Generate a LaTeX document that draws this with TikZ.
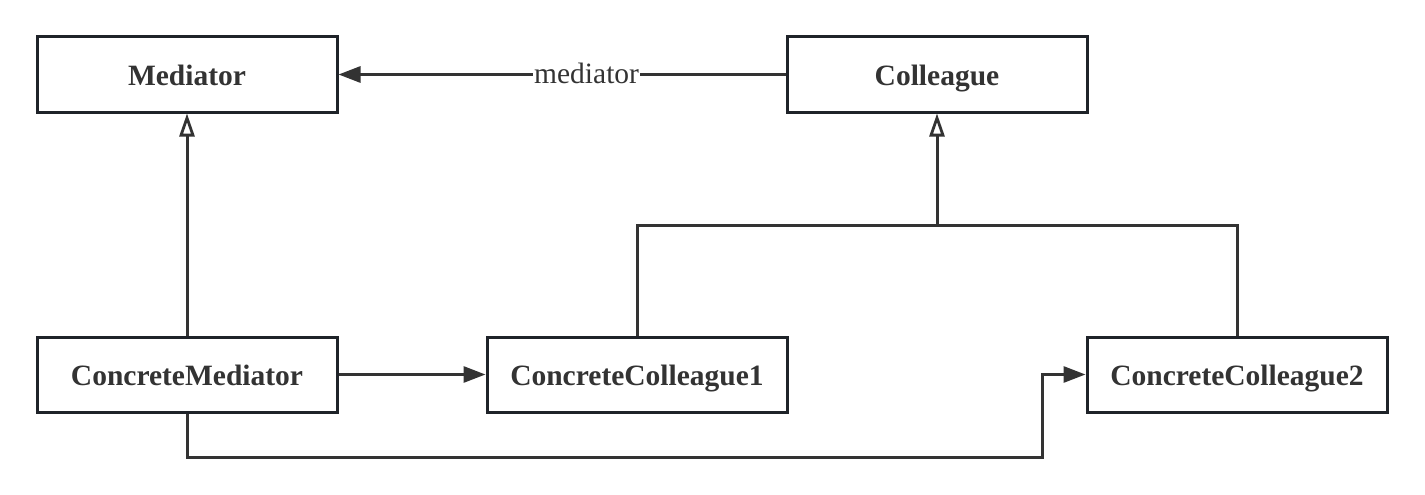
\documentclass[tikz,border=0pt]{standalone}
\usepackage{fontspec}
\setmainfont{Liberation Serif}
\usetikzlibrary{arrows.meta}
\definecolor{boxline}{HTML}{1F2329}
\definecolor{conn}{HTML}{333333}
\definecolor{txt}{HTML}{333333}
\begin{document}
\begin{tikzpicture}[x=1pt,y=-1pt,
  cls/.style={draw=boxline,line width=3pt,fill=white,minimum width=300pt,minimum height=75pt,inner sep=0pt,
    text height=24pt,text depth=3pt,
    font=\fontsize{29.5}{34}\selectfont\bfseries,text=txt},
  conline/.style={draw=conn,line width=3pt},
  assoc/.style={conline,-{Triangle[length=22pt,width=16pt]}},
  gen/.style={conline,-{Triangle[open,length=23pt,width=15pt,line width=2.8pt]}},
  lbl/.style={fill=white,inner sep=1pt,text height=20pt,text depth=0pt,font=\fontsize{29.5}{34}\selectfont,text=txt}]
\useasboundingbox (0,0) rectangle (1425,495);
\node[cls] (med) at (187,74.5) {Mediator};
\node[cls] (col) at (937,74.5) {Colleague};
\node[cls] (cm) at (187,374.5) {ConcreteMediator};
\node[cls] (cc1) at (637,374.5) {ConcreteColleague1};
\node[cls] (cc2) at (1237,374.5) {ConcreteColleague2};
\coordinate (j) at (937,225);
\coordinate (k) at (1042,457);
\draw[assoc] (col.west) -- node[lbl,pos=0.445,yshift=1pt] {mediator} (med.east);
\draw[gen] (cm.north) -- (med.south);
\draw[conline] (cc1.north) |- (j);
\draw[conline] (cc2.north) |- (j);
\draw[gen] (j) -- (col.south);
\draw[assoc] (cm.east) -- (cc1.west);
\draw[assoc] (cm.south) |- (k) -- (k |- cc2.west) -- (cc2.west);
\end{tikzpicture}
\end{document}
